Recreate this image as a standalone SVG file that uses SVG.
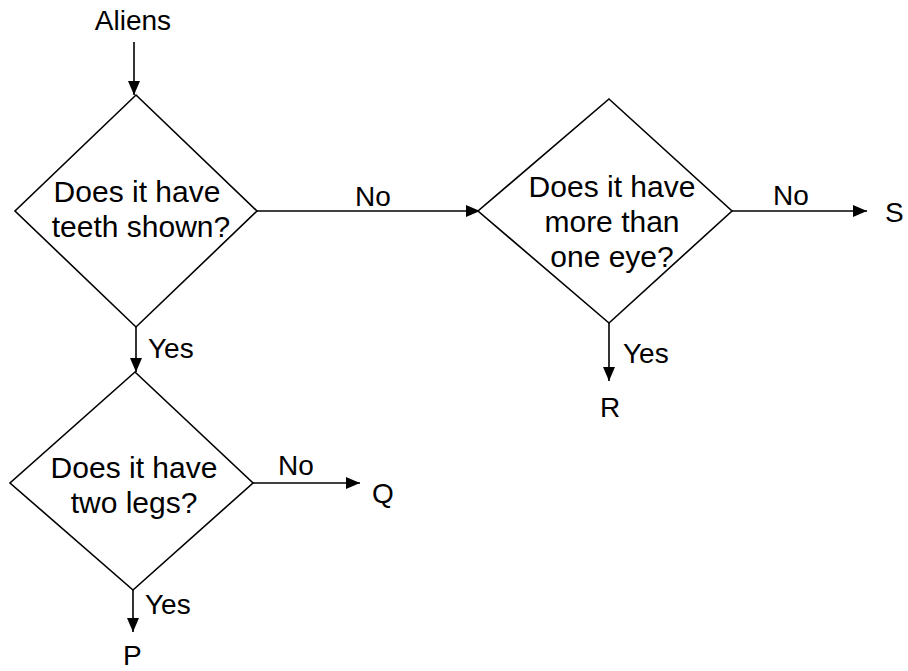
<svg xmlns="http://www.w3.org/2000/svg" width="908" height="671" viewBox="0 0 908 671">
<defs>
<marker id="ah" markerWidth="14" markerHeight="12" refX="14" refY="6" orient="auto" markerUnits="userSpaceOnUse">
<path d="M0,0 L14,6 L0,12 Z" fill="#000"/>
</marker>
<style>
.d{fill:#fff;stroke:#000;stroke-width:1.6}
.c{fill:none;stroke:#000;stroke-width:1.6;marker-end:url(#ah)}
text{font-family:"Liberation Sans",Arial,sans-serif;font-size:28px;fill:#000}
.q{font-size:30px}
.m{text-anchor:middle}
</style>
</defs>
<rect width="908" height="671" fill="#fff"/>
<g id="connectors">
<line class="c" x1="134" y1="42" x2="134" y2="95"/>
<line class="c" x1="257" y1="211" x2="480" y2="211"/>
<line class="c" x1="732" y1="211" x2="867" y2="211"/>
<line class="c" x1="609" y1="323" x2="609" y2="381"/>
<line class="c" x1="136" y1="327" x2="136" y2="372"/>
<line class="c" x1="253" y1="483" x2="360" y2="483"/>
<line class="c" x1="133" y1="590" x2="133" y2="632"/>
<text x="355" y="206">No</text>
<text x="773" y="205">No</text>
<text x="623" y="363">Yes</text>
<text x="148" y="358">Yes</text>
<text x="278" y="475">No</text>
<text x="145" y="614">Yes</text>
</g>
<g id="start"><text class="m" x="133" y="30">Aliens</text></g>
<g id="d1">
<polygon class="d" points="136,95 257,211 136,327 15,211"/>
<text class="m q" x="137" y="202">Does it have</text>
<text class="m q" x="141" y="237">teeth shown?</text>
</g>
<g id="d2">
<polygon class="d" points="609,99 732,211 609,323 478,211"/>
<text class="m q" x="612" y="197">Does it have</text>
<text class="m q" x="612" y="232">more than</text>
<text class="m q" x="612" y="267">one eye?</text>
</g>
<g id="d3">
<polygon class="d" points="135,372 253,483 133,590 10,483"/>
<text class="m q" x="134" y="478">Does it have</text>
<text class="m q" x="134" y="513">two legs?</text>
</g>
<g id="S"><text x="885" y="222">S</text></g>
<g id="R"><text x="600" y="417">R</text></g>
<g id="Q"><text x="372" y="503">Q</text></g>
<g id="P"><text x="123" y="665">P</text></g>
</svg>
